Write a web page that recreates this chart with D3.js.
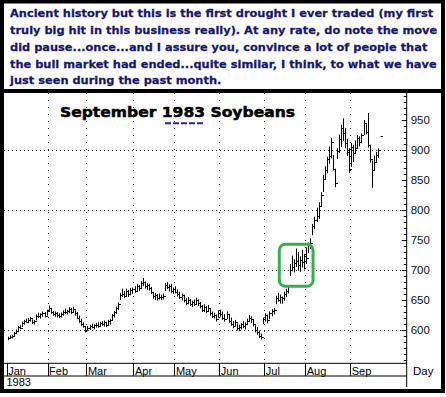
<!DOCTYPE html>
<html>
<head>
<meta charset="utf-8">
<script src="https://d3js.org/d3.v7.min.js"></script>
<style>
  body { margin: 0; background: #fff; }
  svg { display: block; }
</style>
</head>
<body>
<svg id="chart" width="446" height="397"></svg>
<script>
// note text above the chart
const note = [
  "Ancient history but this is the first drought I ever traded (my first",
  "truly big hit in this business really). At any rate, do note the move",
  "did pause...once...and I assure you, convince a lot of people that",
  "the bull market had ended...quite similar, I think, to what we have",
  "just seen during the past month."
];
const title = "September 1983 Soybeans";
const yearLabel = "1983";
const unitLabel = "Day";

// trading days in each month (as spaced on the chart)
const months = ["Jan", "Feb", "Mar", "Apr", "May", "Jun", "Jul", "Aug", "Sep"];
const monthDays = [20, 19, 23, 20, 22, 22, 20, 22, 21];

const priceLabels = [600, 650, 700, 750, 800, 850, 900, 950];
const priceGrid = [600, 700, 800, 900];

// daily bars, cents per bushel
const highs = [
  588, 590, 591, 596, 600, 606, 607, 613, 616, 618,
  619, 621, 617, 616, 625, 628, 627, 630, 629, 633,
  640, 636, 631, 630, 629, 627, 628, 632, 635, 633,
  637, 636, 638, 632, 629, 623, 618, 612, 605, 606,
  608, 610, 609, 611, 612, 613, 614, 615, 613, 616,
  617, 626, 631, 638, 645, 661, 668, 664, 668, 666,
  669, 670, 672, 676, 674, 681, 686, 680, 677, 676,
  671, 662, 661, 659, 660, 658, 660, 678, 679, 675,
  676, 670, 672, 667, 663, 660, 658, 652, 654, 651,
  648, 650, 653, 650, 646, 641, 642, 639, 641, 636,
  630, 628, 625, 632, 633, 630, 626, 630, 624, 620,
  614, 616, 610, 608, 611, 614, 612, 618, 624, 622,
  617, 607, 604, 598, 593, 620, 627, 625, 630, 634,
  636, 656, 661, 658, 655, 663, 668, 674, 709, 723,
  717, 735, 729, 722, 733, 726, 737, 745, 752, 776,
  788, 803, 812, 829, 858, 872, 888, 905, 919, 891,
  868, 902, 925, 941, 952, 936, 918, 902, 911, 908,
  915, 924, 922, 927, 949, 942, 961, 908, 882, 890,
  896, 902, 922
];
const lows = [
  583, 585, 586, 590, 593, 598, 601, 605, 609, 612,
  611, 614, 610, 609, 616, 620, 619, 622, 621, 624,
  630, 627, 624, 622, 621, 620, 621, 624, 627, 626,
  628, 627, 630, 624, 618, 612, 607, 604, 596, 598,
  600, 603, 601, 604, 604, 605, 607, 606, 605, 608,
  609, 616, 621, 627, 633, 650, 655, 653, 656, 655,
  658, 660, 662, 664, 665, 668, 673, 669, 667, 666,
  660, 652, 650, 649, 651, 650, 651, 665, 668, 664,
  662, 660, 661, 656, 652, 649, 646, 641, 643, 640,
  638, 640, 642, 640, 636, 630, 630, 628, 630, 624,
  620, 619, 614, 620, 622, 617, 614, 618, 612, 607,
  603, 605, 599, 598, 601, 603, 601, 608, 613, 612,
  606, 596, 592, 587, 584, 610, 614, 611, 618, 623,
  626, 643, 647, 644, 644, 649, 655, 661, 690, 698,
  696, 705, 699, 697, 704, 701, 710, 728, 735, 758,
  768, 780, 785, 805, 830, 850, 861, 877, 886, 866,
  838, 885, 895, 905, 915, 903, 890, 862, 872, 880,
  895, 903, 906, 911, 925, 926, 904, 879, 837, 866,
  879, 887, 922
];
const closes = [
  586, 588, 590, 594, 598, 604, 603, 611, 614, 613,
  616, 619, 612, 615, 623, 622, 625, 627, 623, 631,
  636, 629, 626, 628, 624, 622, 626, 630, 629, 631,
  634, 629, 635, 627, 620, 615, 610, 606, 599, 602,
  606, 605, 607, 608, 606, 611, 609, 612, 608, 614,
  616, 624, 629, 636, 642, 658, 660, 656, 665, 659,
  666, 667, 664, 672, 670, 677, 679, 672, 674, 669,
  663, 656, 657, 653, 655, 654, 656, 674, 671, 672,
  665, 667, 663, 659, 655, 657, 649, 644, 650, 642,
  646, 643, 649, 644, 640, 632, 638, 631, 636, 628,
  623, 624, 617, 628, 626, 620, 618, 626, 615, 610,
  606, 612, 602, 604, 609, 606, 610, 615, 620, 618,
  609, 599, 596, 590, 588, 618, 624, 616, 627, 631,
  633, 652, 650, 655, 652, 660, 665, 672, 700, 704,
  711, 714, 707, 716, 712, 722, 719, 741, 744, 772,
  782, 790, 806, 825, 851, 866, 884, 890, 912, 868,
  845, 898, 918, 936, 928, 910, 896, 868, 905, 895,
  902, 920, 912, 925, 945, 930, 908, 885, 866, 880,
  891, 899, 922
];

// the pause that was circled: day span and price span
const pauseDays = [133.3, 149.8];
const pausePrices = [672, 742];

const svg = d3.select("#chart");

const plotLeft = 4, plotRight = 406.7, plotTop = 93, plotBottom = 363.3, rowBottom = 376;

const x = d3.scaleLinear().domain([0, 196]).range([6.7, 407.5]);
const y = d3.scaleLinear().domain([600, 900]).range([329.5, 149.5]);

const monthStart = Array.from(d3.cumsum([0].concat(monthDays.slice(0, -1))));

// note text
const navy = "#16166f";
const noteG = svg.append("g");
const noteText = noteG.selectAll("text")
  .data(note)
  .enter()
  .append("text")
  .attr("x", 0)
  .attr("y", (d, i) => 17.3 + i * 16.8)
  .attr("fill", navy)
  .attr("stroke", navy)
  .attr("stroke-width", 0.25)
  .style("font-family", "DejaVu Sans, Verdana, sans-serif")
  .style("font-weight", "bold")
  .style("font-size", "11px")
  .text(d => d);
const w4 = noteText.nodes()[3].getComputedTextLength();
noteG.attr("transform", "translate(10,0) scale(" + (427 / w4) + ",1)");

// grid
svg.append("g")
  .selectAll("line")
  .data(priceGrid)
  .enter()
  .append("line")
  .attr("x1", plotLeft).attr("x2", plotRight)
  .attr("y1", d => Math.round(y(d)) + 0.5)
  .attr("y2", d => Math.round(y(d)) + 0.5)
  .attr("stroke", "#222")
  .attr("stroke-dasharray", "1,3");

svg.append("g")
  .selectAll("line")
  .data(monthStart.slice(1))
  .enter()
  .append("line")
  .attr("x1", d => Math.round(x(d)) + 0.5)
  .attr("x2", d => Math.round(x(d)) + 0.5)
  .attr("y1", plotTop).attr("y2", plotBottom)
  .attr("stroke", "#222")
  .attr("stroke-dasharray", "1,6");

// title
svg.append("text")
  .attr("x", 60)
  .attr("y", 117)
  .attr("textLength", 235)
  .attr("lengthAdjust", "spacingAndGlyphs")
  .style("font-family", "DejaVu Sans, Arial, sans-serif")
  .style("font-weight", "bold")
  .style("font-size", "14.5px")
  .attr("fill", "#000")
  .attr("stroke", "#000")
  .attr("stroke-width", 0.5)
  .text(title);

svg.append("line")
  .attr("x1", 165).attr("x2", 204)
  .attr("y1", 123.3).attr("y2", 123.3)
  .attr("stroke", "#23239a")
  .attr("stroke-width", 2)
  .attr("stroke-dasharray", "6,2");

// price bars
const idx = d3.range(highs.length);
const bars = svg.append("g").attr("stroke", "#000").attr("stroke-width", 1);
bars.selectAll(".hl")
  .data(idx)
  .enter()
  .append("line")
  .attr("x1", i => Math.round(x(i + 0.5)) + 0.5)
  .attr("x2", i => Math.round(x(i + 0.5)) + 0.5)
  .attr("y1", i => y(highs[i]))
  .attr("y2", i => y(lows[i]) + 0.5);
bars.selectAll(".cl")
  .data(idx)
  .enter()
  .append("line")
  .attr("x1", i => Math.round(x(i + 0.5)) + 1)
  .attr("x2", i => Math.round(x(i + 0.5)) + 3)
  .attr("y1", i => Math.round(y(closes[i])) + 0.5)
  .attr("y2", i => Math.round(y(closes[i])) + 0.5);

// circled pause
svg.append("rect")
  .attr("x", x(pauseDays[0]))
  .attr("y", y(pausePrices[1]))
  .attr("width", x(pauseDays[1]) - x(pauseDays[0]))
  .attr("height", y(pausePrices[0]) - y(pausePrices[1]))
  .attr("rx", 6)
  .attr("fill", "none")
  .attr("stroke", "#36ae4f")
  .attr("stroke-width", 3);

// price axis on the right, ticks pointing into the plot
const minor = d3.range(550, 995, 10).filter(v => y(v) >= plotTop && y(v) <= plotBottom);
svg.append("g")
  .attr("transform", "translate(" + plotRight + ",0.5)")
  .call(d3.axisRight(y).tickValues(minor).tickSize(-3).tickFormat(""))
  .call(g => g.select(".domain").remove());
svg.append("g")
  .attr("transform", "translate(" + plotRight + ",0.5)")
  .call(d3.axisRight(y).tickValues(priceLabels).tickSize(-5).tickPadding(4))
  .call(g => g.select(".domain").remove())
  .call(g => g.selectAll("text")
    .style("font-family", "Liberation Sans, Arial, sans-serif")
    .style("font-size", "11.5px")
    .attr("fill", "#111"));
svg.selectAll(".tick line").attr("stroke", "#000");

svg.append("line")
  .attr("x1", plotRight).attr("x2", plotRight)
  .attr("y1", plotTop).attr("y2", 387)
  .attr("stroke", "#000");

// month row
svg.append("line")
  .attr("x1", plotLeft).attr("x2", plotRight)
  .attr("y1", plotBottom).attr("y2", plotBottom)
  .attr("stroke", "#000");
svg.append("line")
  .attr("x1", plotLeft).attr("x2", plotRight)
  .attr("y1", rowBottom).attr("y2", rowBottom)
  .attr("stroke", "#000");

const monthG = svg.append("g");
monthG.selectAll("line")
  .data(monthStart)
  .enter()
  .append("line")
  .attr("x1", d => Math.round(x(d)) + 0.5)
  .attr("x2", d => Math.round(x(d)) + 0.5)
  .attr("y1", plotBottom).attr("y2", rowBottom)
  .attr("stroke", "#000");
monthG.selectAll("text")
  .data(months)
  .enter()
  .append("text")
  .attr("x", (d, i) => x(monthStart[i]) + 1.5)
  .attr("y", 374.5)
  .style("font-family", "Liberation Sans, Arial, sans-serif")
  .style("font-size", "11px")
  .attr("fill", "#000")
  .text(d => d);

svg.append("text")
  .attr("x", 6.5).attr("y", 386)
  .style("font-family", "Liberation Sans, Arial, sans-serif")
  .style("font-size", "11px")
  .text(yearLabel);
svg.append("text")
  .attr("x", 413).attr("y", 375)
  .style("font-family", "Liberation Sans, Arial, sans-serif")
  .style("font-size", "11.5px")
  .text(unitLabel);

// frame
svg.append("rect")
  .attr("x", 2).attr("y", 1.5)
  .attr("width", 441).attr("height", 389.5)
  .attr("fill", "none")
  .attr("stroke", "#000")
  .attr("stroke-width", 4);
svg.append("line")
  .attr("x1", 0).attr("x2", 445)
  .attr("y1", 91).attr("y2", 91)
  .attr("stroke", "#000")
  .attr("stroke-width", 4);
</script>
</body>
</html>
